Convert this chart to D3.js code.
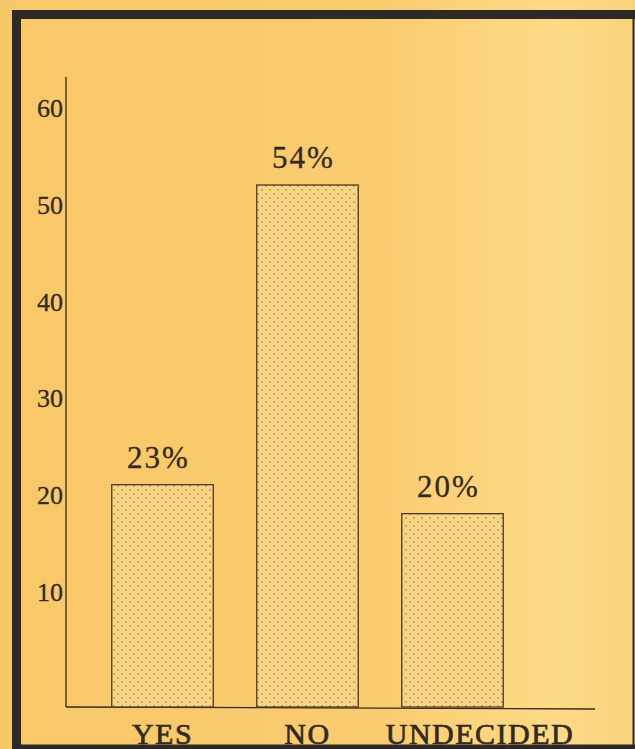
<!DOCTYPE html>
<html>
<head>
<meta charset="utf-8">
<script src="https://cdn.jsdelivr.net/npm/d3@7"></script>
<style>
  html, body { margin: 0; padding: 0; background: #f9ca6c; }
  svg { display: block; }
</style>
</head>
<body>
<div id="chart"></div>
<script>
// data
var categories = ["YES", "NO", "UNDECIDED"];
var percents = [23, 54, 20];
var tickValues = [10, 20, 30, 40, 50, 60];

var W = 635, H = 749;
var ink = "#33291d";

var svg = d3.select("#chart").append("svg")
    .attr("width", W).attr("height", H);

var defs = svg.append("defs");

// paper gets a bit lighter towards the right of the scan
var grad = defs.append("linearGradient")
    .attr("id", "paper").attr("x1", "0").attr("x2", "1").attr("y1", "0").attr("y2", "0");
grad.append("stop").attr("offset", "0").attr("stop-color", "#f8c768");
grad.append("stop").attr("offset", "0.6").attr("stop-color", "#facc70");
grad.append("stop").attr("offset", "0.88").attr("stop-color", "#fdda87");
grad.append("stop").attr("offset", "1").attr("stop-color", "#fbd27c");

// dotted screen for the bars
var pat = defs.append("pattern")
    .attr("id", "dots")
    .attr("patternUnits", "userSpaceOnUse")
    .attr("width", 8).attr("height", 8);
pat.append("rect").attr("width", 8).attr("height", 8).attr("fill", "#f9d584");
pat.append("circle").attr("cx", 2).attr("cy", 2).attr("r", 0.95).attr("fill", "#b9925a");
pat.append("circle").attr("cx", 6).attr("cy", 6).attr("r", 0.95).attr("fill", "#b9925a");

svg.append("rect")
    .attr("width", W).attr("height", H)
    .attr("fill", "url(#paper)");

var x = d3.scaleBand()
    .domain(categories)
    .range([90, 525])
    .paddingInner(0.3)
    .paddingOuter(0.15);

var y = d3.scaleLinear()
    .domain([0, 60])
    .range([707, 127]);

var g = svg.append("g");

// axes lines
g.append("line")
    .attr("x1", 66).attr("x2", 66)
    .attr("y1", 77).attr("y2", y(0))
    .attr("stroke", ink).attr("stroke-width", 1.3);
g.append("line")
    .attr("x1", 66).attr("x2", 595)
    .attr("y1", y(0)).attr("y2", y(0) + 2)
    .attr("stroke", ink).attr("stroke-width", 1.3);

// tick labels, no tick marks (sit a bit above their value)
var yAxis = d3.axisLeft(y)
    .tickValues(tickValues)
    .tickSize(0)
    .tickPadding(3);
var ya = g.append("g")
    .attr("transform", "translate(66,0)")
    .call(yAxis);
ya.select(".domain").remove();
ya.selectAll("text")
    .attr("font-family", "'Liberation Serif', serif")
    .attr("font-size", "26px")
    .attr("fill", ink)
    .attr("stroke", ink).attr("stroke-width", 0.3)
    .attr("dy", "-0.05em")
    .attr("transform", "translate(0,-9)");

// bars
g.selectAll(".bar")
    .data(percents)
    .enter().append("rect")
    .attr("class", "bar")
    .attr("x", function(d, i){ return x(categories[i]); })
    .attr("y", function(d){ return y(d); })
    .attr("width", x.bandwidth())
    .attr("height", function(d){ return y(0) - y(d); })
    .attr("fill", "url(#dots)")
    .attr("stroke", "#4a3a26")
    .attr("stroke-width", 1.3);

// value labels
g.selectAll(".val")
    .data(percents)
    .enter().append("text")
    .attr("class", "val")
    .attr("x", function(d, i){ return x(categories[i]) + x.bandwidth()/2 - 4; })
    .attr("y", function(d){ return y(d) - 17; })
    .attr("text-anchor", "middle")
    .attr("font-family", "'Liberation Serif', serif")
    .attr("font-size", "31px")
    .attr("letter-spacing", "2px")
    .attr("fill", ink)
    .attr("stroke", ink).attr("stroke-width", 0.3)
    .text(function(d){ return d + "%"; });

// category labels; a label wider than its bar starts just left of the bar
var xa = g.append("g")
    .attr("transform", "translate(0," + y(0) + ")")
    .call(d3.axisBottom(x).tickSize(0).tickPadding(0));
xa.select(".domain").remove();
xa.selectAll("text")
    .attr("font-family", "'Liberation Serif', serif")
    .attr("font-size", "30px")
    .attr("letter-spacing", "1.5px")
    .attr("fill", ink)
    .attr("stroke", ink).attr("stroke-width", 0.7)
    .attr("dy", "0")
    .attr("y", 37)
    .each(function(d){
        var t = d3.select(this);
        var w = this.getComputedTextLength();
        if (w > x.bandwidth()) {
            t.attr("text-anchor", "start").attr("x", -x.bandwidth()/2 - 16);
        }
    });

// dark frame of the board: heavy top, left and bottom, thin right edge
var frame = svg.append("g").attr("stroke", "#2d2926");
frame.append("line").attr("x1", 12).attr("x2", W).attr("y1", 14.5).attr("y2", 14.5).attr("stroke-width", 9);
frame.append("line").attr("x1", 16.5).attr("x2", 16.5).attr("y1", 10).attr("y2", H).attr("stroke-width", 9);
frame.append("line").attr("x1", 12).attr("x2", W).attr("y1", 747).attr("y2", 747).attr("stroke-width", 5);
frame.append("line").attr("x1", 633.5).attr("x2", 633.5).attr("y1", 10).attr("y2", H).attr("stroke-width", 2);
</script>
</body>
</html>
